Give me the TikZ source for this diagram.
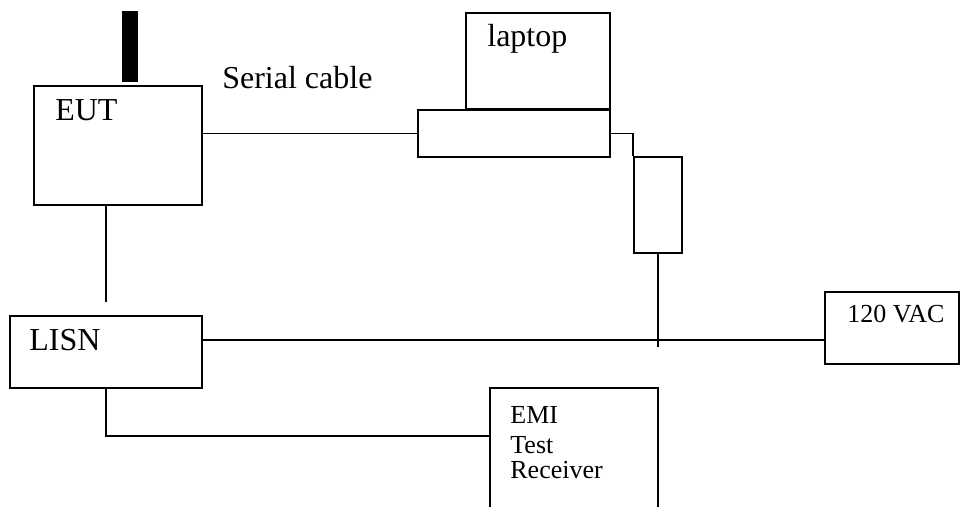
\documentclass[tikz,border=0pt]{standalone}
\usepackage{fontspec}
\setmainfont{Liberation Serif}
\begin{document}
\begin{tikzpicture}[xscale=1.000000,yscale=1.000000,
  unit/.style={draw=black,line width=1pt,rectangle,inner sep=0pt},
  big/.style={inner sep=0pt,anchor=base west,font=\fontsize{18.2}{22}\selectfont},
  small/.style={inner sep=0pt,anchor=base west,font=\fontsize{14.8}{18}\selectfont},
  wire/.style={draw=black,line width=1pt}]
\useasboundingbox (0,0) rectangle (19.2,-10.12);
\clip (0,0) rectangle (19.2,-10.12);
% boxes
\node[unit,minimum width=3.36cm,minimum height=2.38cm] (eut) at (2.36,-2.91) {};
\node[fill=black,minimum width=0.32cm,minimum height=1.42cm,inner sep=0pt] (antenna) at (2.6,-0.93) {};
\node[unit,minimum width=2.88cm,minimum height=1.92cm] (screen) at (10.76,-1.22) {};
\node[unit,minimum width=3.84cm,minimum height=0.94cm] (base) at (10.28,-2.67) {};
\node[unit,minimum width=0.96cm,minimum height=1.92cm] (adapter) at (13.16,-4.1) {};
\node[unit,minimum width=3.84cm,minimum height=1.44cm] (lisn) at (2.12,-7.04) {};
\node[unit,minimum width=2.68cm,minimum height=1.44cm] (vac) at (17.84,-6.56) {};
\node[unit,minimum width=3.36cm,minimum height=3.04cm] (emi) at (11.48,-9.28) {};
% labels
\node[big] (eutlabel) at (1.1,-2.4) {EUT};
\node[big] (seriallabel) at (4.44,-1.76) {Serial cable};
\node[big] (laptoplabel) at (9.74,-0.92) {laptop};
\node[big] (lisnlabel) at (0.58,-7.0) {LISN};
\node[small] (vaclabel) at (16.94,-6.44) {120 VAC};
\node[small] (emilabel) at (10.2,-8.46) {EMI};
\node[small] (testlabel) at (10.2,-9.06) {Test};
\node[small] (rxlabel) at (10.2,-9.56) {Receiver};
% wiring
\coordinate (lisntop) at (2.12,-6.04);
\coordinate (plugend) at (13.16,-6.94);
\coordinate (mains) at (0,-6.8);
\coordinate (rxin) at (emi.west |- 0,-8.72);
\draw[wire] (base.west) -- (base.west -| eut.east);
\draw[wire] (base.east) -| (adapter.north west);
\draw[wire] (adapter.south) -- (plugend);
\draw[wire] (eut.south -| lisntop) -- (lisntop);
\draw[wire] (lisn.east |- mains) -- (vac.west |- mains);
\draw[wire] (lisn.south) |- (rxin);
\end{tikzpicture}
\end{document}
